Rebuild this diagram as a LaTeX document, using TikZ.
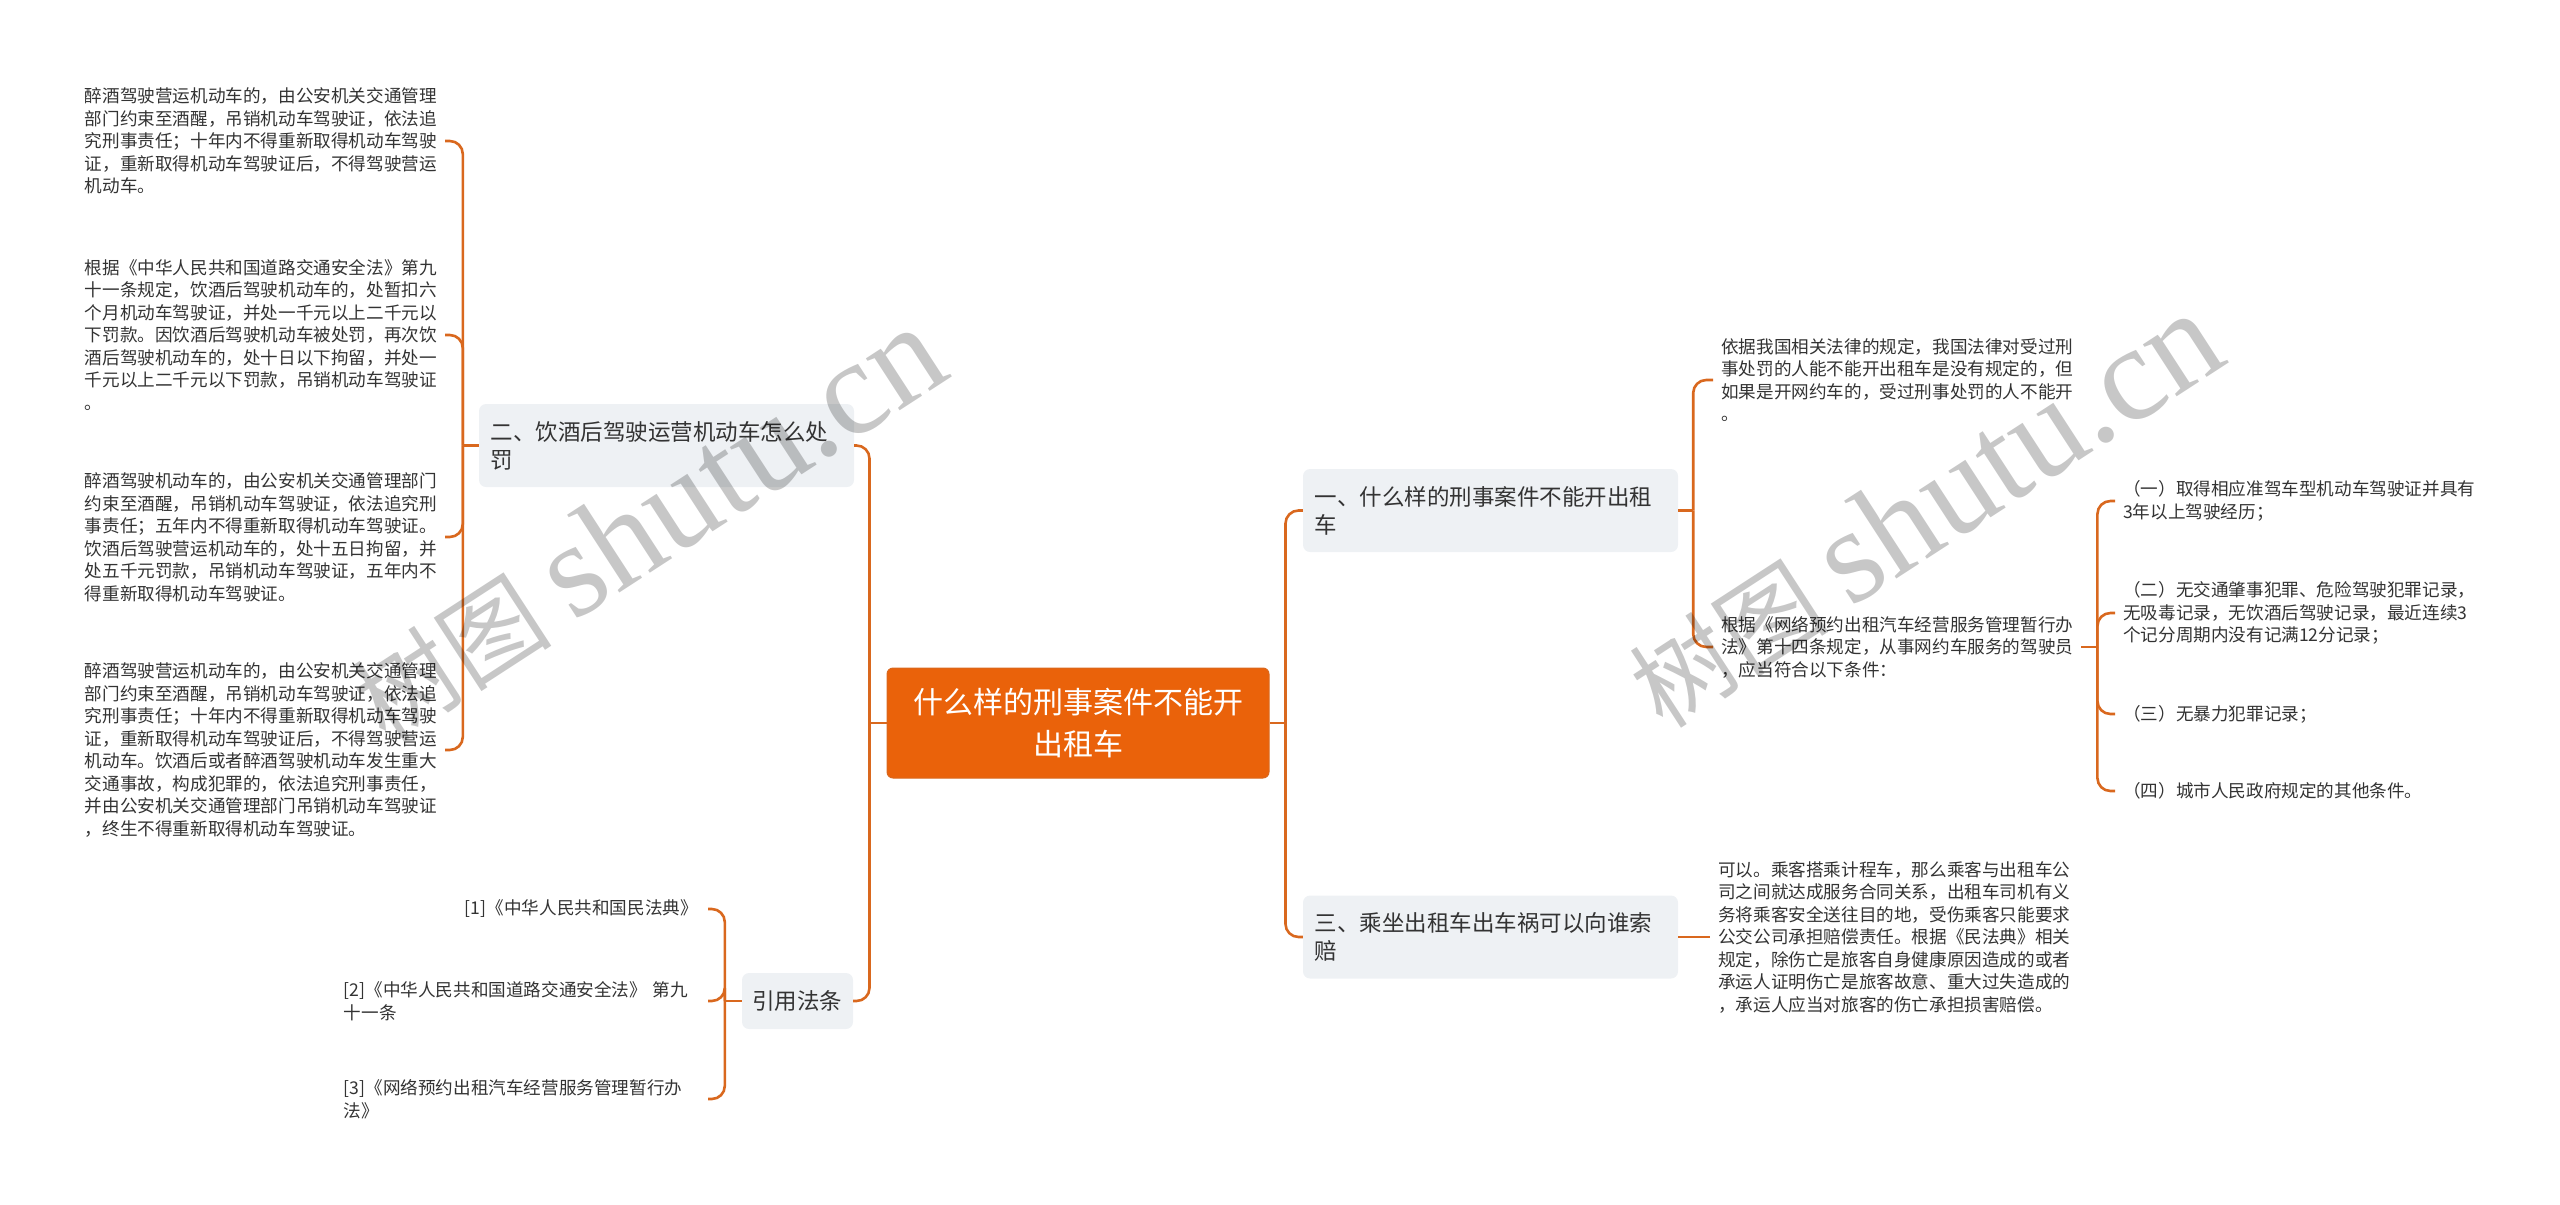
\documentclass[tikz,border=0pt]{standalone}
\usepackage{fontspec}
\setmainfont{Noto Sans CJK SC}
\newfontfamily\wmlatin{Liberation Serif}
\definecolor{linkorange}{HTML}{D9681E}
\definecolor{rootorange}{HTML}{EA620A}
\definecolor{topicgrey}{HTML}{EEF1F4}
\definecolor{textgrey}{HTML}{333333}

\begin{document}
\begin{tikzpicture}[
  x=1pt, y=-1pt,
  link/.style={draw=linkorange, line width=2.6pt, rounded corners=13pt},
  rootbox/.style={fill=rootorange, draw=linkorange, line width=1pt, rounded corners=6pt, text=white, font=\fontsize{30pt}{42pt}\selectfont, align=center, text width=330pt, inner xsep=26pt, minimum height=110pt},
  topic/.style={fill=topicgrey, rounded corners=7pt, text=textgrey, font=\fontsize{22.5pt}{28pt}\selectfont, align=left, text width=352pt, inner xsep=11.5pt, minimum height=83pt},
  leaf/.style={text=textgrey, font=\fontsize{17.6pt}{22.5pt}\selectfont, align=left, text width=352pt, inner xsep=8pt, inner ysep=4pt},
  wmark/.style={text=black, text opacity=0.22, font=\fontsize{100pt}{100pt}\selectfont, rotate=33, inner sep=0pt}
]
\useasboundingbox (0,0) rectangle (2560,1205);

\node[rootbox] (root) at (1078,723) {什么样的刑事案件不能开\\出租车};

\node[topic] (t2) at (666.5,445.5) {二、饮酒后驾驶运营机动车怎么处\\罚};
\node[topic, text width=91pt, inner xsep=10pt, minimum height=56pt] (t4) at (797.5,1001) {引用法条};
\node[topic] (t1) at (1490.5,510.5) {一、什么样的刑事案件不能开出租\\车};
\node[topic] (t3) at (1490.5,937) {三、乘坐出租车出车祸可以向谁索\\赔};

\node[leaf, anchor=east] (d1) at (445,141) {醉酒驾驶营运机动车的，由公安机关交通管理\\部门约束至酒醒，吊销机动车驾驶证，依法追\\究刑事责任；十年内不得重新取得机动车驾驶\\证，重新取得机动车驾驶证后，不得驾驶营运\\机动车。};
\node[leaf, anchor=east] (d2) at (445,335) {根据《中华人民共和国道路交通安全法》第九\\十一条规定，饮酒后驾驶机动车的，处暂扣六\\个月机动车驾驶证，并处一千元以上二千元以\\下罚款。因饮酒后驾驶机动车被处罚，再次饮\\酒后驾驶机动车的，处十日以下拘留，并处一\\千元以上二千元以下罚款，吊销机动车驾驶证\\。};
\node[leaf, anchor=east] (d3) at (445,537) {醉酒驾驶机动车的，由公安机关交通管理部门\\约束至酒醒，吊销机动车驾驶证，依法追究刑\\事责任；五年内不得重新取得机动车驾驶证。\\饮酒后驾驶营运机动车的，处十五日拘留，并\\处五千元罚款，吊销机动车驾驶证，五年内不\\得重新取得机动车驾驶证。};
\node[leaf, anchor=east] (d4) at (445,750) {醉酒驾驶营运机动车的，由公安机关交通管理\\部门约束至酒醒，吊销机动车驾驶证，依法追\\究刑事责任；十年内不得重新取得机动车驾驶\\证，重新取得机动车驾驶证后，不得驾驶营运\\机动车。饮酒后或者醉酒驾驶机动车发生重大\\交通事故，构成犯罪的，依法追究刑事责任，\\并由公安机关交通管理部门吊销机动车驾驶证\\，终生不得重新取得机动车驾驶证。};

\node[leaf, anchor=east, text width=, inner xsep=10pt] (r1) at (708,909) {[1]《中华人民共和国民法典》};
\node[leaf, anchor=east, text width=356pt] (r2) at (708,1001) {[2]《中华人民共和国道路交通安全法》 第九\\十一条};
\node[leaf, anchor=east, text width=356pt] (r3) at (708,1099) {[3]《网络预约出租汽车经营服务管理暂行办\\法》};

\node[leaf, anchor=west] (c1) at (1713,380) {依据我国相关法律的规定，我国法律对受过刑\\事处罚的人能不能开出租车是没有规定的，但\\如果是开网约车的，受过刑事处罚的人不能开\\。};
\node[leaf, anchor=west] (c2) at (1713,647) {根据《网络预约出租汽车经营服务管理暂行办\\法》第十四条规定，从事网约车服务的驾驶员\\，应当符合以下条件：};

\node[leaf, anchor=west] (k1) at (2115,501) {（一）取得相应准驾车型机动车驾驶证并具有\\3年以上驾驶经历；};
\node[leaf, anchor=west] (k2) at (2115,613) {（二）无交通肇事犯罪、危险驾驶犯罪记录，\\无吸毒记录，无饮酒后驾驶记录，最近连续3\\个记分周期内没有记满12分记录；};
\node[leaf, anchor=west] (k3) at (2115,714) {（三）无暴力犯罪记录；};
\node[leaf, anchor=west] (k4) at (2115,791) {（四）城市人民政府规定的其他条件。};

\node[leaf, anchor=west] (p1) at (1710,937) {可以。乘客搭乘计程车，那么乘客与出租车公\\司之间就达成服务合同关系，出租车司机有义\\务将乘客安全送往目的地，受伤乘客只能要求\\公交公司承担赔偿责任。根据《民法典》相关\\规定，除伤亡是旅客自身健康原因造成的或者\\承运人证明伤亡是旅客故意、重大过失造成的\\，承运人应当对旅客的伤亡承担损害赔偿。};

\coordinate (jl) at ([xshift=-17pt]root.west);
\coordinate (jr) at ([xshift=16pt]root.east);
\coordinate (j2) at ([xshift=-16pt]t2.west);
\coordinate (j4) at ([xshift=-17pt]t4.west);
\coordinate (j1) at ([xshift=15pt]t1.east);
\coordinate (jc) at ([xshift=16pt]c2.east);

\draw[link] (root.west) -- (jl);
\draw[link] (jl) |- (t2.east);
\draw[link] (jl) |- (t4.east);
\draw[link] (root.east) -- (jr);
\draw[link] (jr) |- (t1.west);
\draw[link] (jr) |- (t3.west);

\draw[link] (t2.west) -- (j2);
\foreach \n in {d1,d2,d3,d4}
  \draw[link] (j2) |- (\n.east);

\draw[link] (t4.west) -- (j4);
\foreach \n in {r1,r2,r3}
  \draw[link] (j4) |- (\n.east);

\draw[link] (t1.east) -- (j1);
\foreach \n in {c1,c2}
  \draw[link] (j1) |- (\n.west);

\draw[link] (c2.east) -- (jc);
\foreach \n in {k1,k2,k3,k4}
  \draw[link] (jc) |- (\n.west);

\draw[link] (t3.east) -- (p1.west);

\node[wmark] (w1) at (647,524) {树图 {\wmlatin\fontsize{135pt}{135pt}\selectfont shutu.cn}};
\node[wmark] (w2) at (1924,510) {树图 {\wmlatin\fontsize{135pt}{135pt}\selectfont shutu.cn}};
\end{tikzpicture}
\end{document}
